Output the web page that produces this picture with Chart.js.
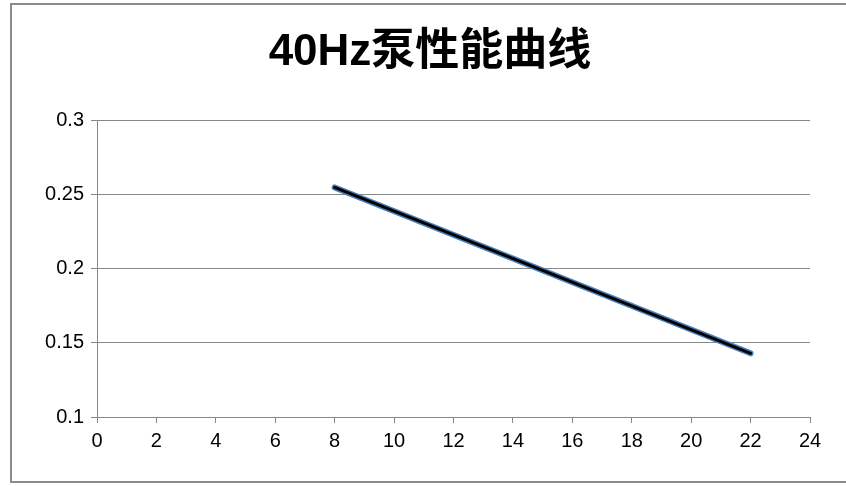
<!DOCTYPE html>
<html>
<head>
<meta charset="utf-8">
<script src="https://cdn.jsdelivr.net/npm/chart.js@4/dist/chart.umd.min.js"></script>
<style>
  html, body { margin: 0; padding: 0; background: #fff; overflow: hidden; }
  canvas { display: block; }
</style>
</head>
<body>
<canvas id="chart" width="846" height="486"></canvas>
<script>
// values
const flowX = [8, 22];
const headY = [0.255, 0.143];
const xTicks = [0, 2, 4, 6, 8, 10, 12, 14, 16, 18, 20, 22, 24];
const yTicks = [0.1, 0.15, 0.2, 0.25, 0.3];

const points = flowX.map((x, i) => ({ x: x, y: headY[i] }));
const tickFont = { family: "'Liberation Sans', 'Noto Sans'", size: 20 };

// the grey outline round the chart (left, top, bottom only)
const framePlugin = {
  id: "frame",
  beforeDraw(chart) {
    const ctx = chart.ctx;
    ctx.save();
    ctx.strokeStyle = "#8c8c8c";
    ctx.lineWidth = 2;
    ctx.beginPath();
    ctx.moveTo(chart.width, 4);
    ctx.lineTo(11, 4);
    ctx.lineTo(11, 482);
    ctx.lineTo(chart.width, 482);
    ctx.stroke();
    ctx.restore();
  },
};

const config = {
  type: "scatter",
  data: {
    datasets: [
      {
        data: points,
        showLine: true,
        borderColor: "#000000",
        borderWidth: 3,
        borderCapStyle: "round",
        pointRadius: 0,
        order: 1,
      },
      {
        data: points,
        showLine: true,
        borderColor: "#4a7ebb",
        borderWidth: 6,
        borderCapStyle: "round",
        pointRadius: 0,
        order: 2,
      },
    ],
  },
  options: {
    responsive: false,
    animation: false,
    layout: { padding: { left: 14, right: 0, top: 0, bottom: 0 } },
    plugins: {
      legend: { display: false },
      tooltip: { enabled: false },
      title: {
        display: true,
        text: "40Hz泵性能曲线",
        color: "#000",
        font: { family: "'Liberation Sans', 'Noto Sans CJK SC'", size: 44, weight: "bold", lineHeight: 1.2 },
        padding: { top: 26, bottom: 42 },
      },
    },
    scales: {
      x: {
        type: "linear",
        min: 0,
        max: 24,
        afterBuildTicks: (s) => { s.ticks = xTicks.map((v) => ({ value: v })); },
        ticks: { color: "#000", font: tickFont, padding: 6, maxRotation: 0 },
        grid: { drawOnChartArea: false, drawTicks: true, tickLength: 6, color: "#888" },
        border: { display: true, color: "#888", width: 1 },
        afterFit: (s) => { s.height = 69; },
      },
      y: {
        type: "linear",
        min: 0.1,
        max: 0.3,
        afterBuildTicks: (s) => { s.ticks = yTicks.map((v) => ({ value: v })); },
        ticks: { color: "#000", font: tickFont, padding: 7, callback: (v) => String(+v.toFixed(2)) },
        grid: { color: "#888", tickLength: 6 },
        border: { display: true, color: "#888", width: 1 },
        afterFit: (s) => { s.width = 83; },
      },
      // empty axis on the right only to reserve space
      yr: {
        type: "linear",
        position: "right",
        display: true,
        ticks: { display: false },
        grid: { display: false, drawTicks: false },
        border: { display: false },
        afterFit: (s) => { s.width = 36; },
      },
    },
  },
  plugins: [framePlugin],
};

new Chart(document.getElementById("chart"), config);
</script>
</body>
</html>
